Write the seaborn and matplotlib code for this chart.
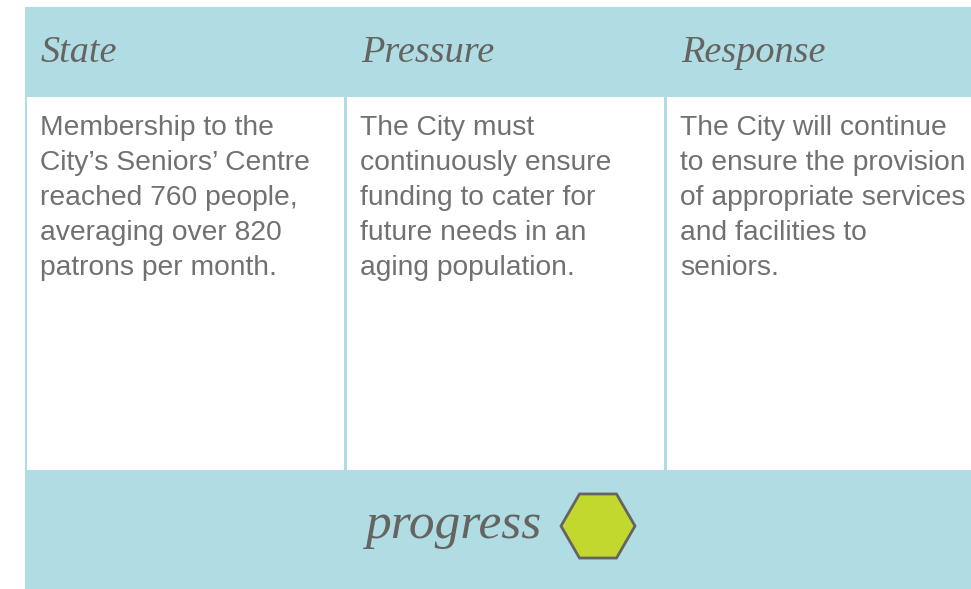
import numpy as np
import matplotlib
import matplotlib.pyplot as plt
import seaborn as sns
from matplotlib.patches import Rectangle, RegularPolygon

matplotlib.use('Agg')
sns.set_theme(style='white')

# --- content ---
headers = ['State', 'Pressure', 'Response']
body_lines = [
    ['Membership to the', 'City\u2019s Seniors\u2019 Centre', 'reached 760 people,',
     'averaging over 820', 'patrons per month.'],
    ['The City must', 'continuously ensure', 'funding to cater for',
     'future needs in an', 'aging population.'],
    ['The City will continue', 'to ensure the provision', 'of appropriate services',
     'and facilities to', 'seniors.'],
]
footer_label = 'progress'
status_color = '#C3D82F'

# --- colours / layout (pixel units) ---
TEAL = '#B0DDE3'
INK = '#666460'
BODY = '#707173'
W, H = 971, 589
col_x = [27, 347, 667]
col_w = [317, 317, W - 667]
cell_top, cell_bot = 97, 470

fig = plt.figure(figsize=(W / 100, H / 100), dpi=100)
ax = fig.add_axes([0, 0, 1, 1])
ax.set_xlim(0, W)
ax.set_ylim(H, 0)
ax.axis('off')

# teal background panel
ax.add_patch(Rectangle((25, 7), W - 25, H - 7, facecolor=TEAL, edgecolor='none'))

for i, (hdr, lines) in enumerate(zip(headers, body_lines)):
    x0 = col_x[i]
    ax.add_patch(Rectangle((x0, cell_top), col_w[i], cell_bot - cell_top,
                           facecolor='white', edgecolor='none'))
    ax.text(x0 + 14, 62, hdr, fontsize=27.5, color=INK, family='Liberation Serif',
            style='italic', ha='left', va='baseline')
    for j, line in enumerate(lines):
        ax.text(x0 + 13, 135 + j * 35, line, fontsize=20.3, color=BODY,
                family='Liberation Sans', ha='left', va='baseline')

# footer
ax.text(453, 538, footer_label, fontsize=37, color=INK, family='Liberation Serif',
        style='italic', ha='center', va='baseline')
ax.add_patch(RegularPolygon((598, 526), 6, radius=37, orientation=np.pi / 6,
                            facecolor=status_color, edgecolor=INK, linewidth=2))

fig.savefig('out.png', dpi=100)
plt.close(fig)
